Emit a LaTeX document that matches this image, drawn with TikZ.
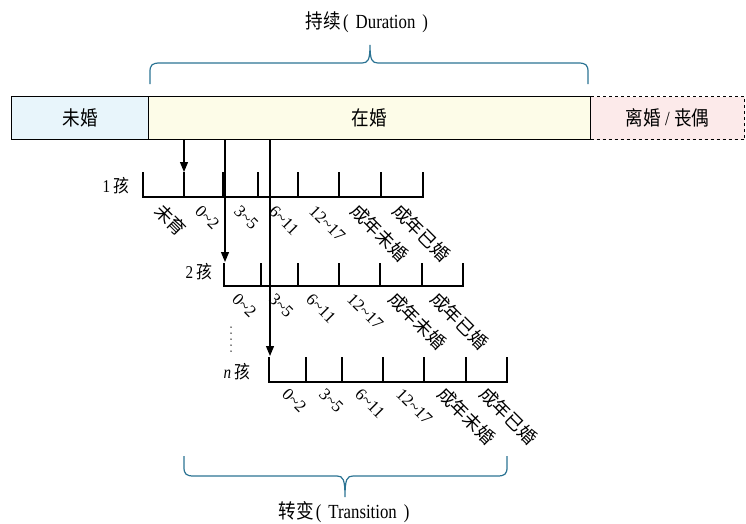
\documentclass[tikz,border=0pt]{standalone}
\usepackage{fontspec}
\setmainfont{Liberation Serif}[FakeStretch=0.84]
\newfontfamily\lat{Liberation Serif}
\newfontfamily\cjk{Noto Sans CJK SC}[FakeStretch=0.88]
\newfontfamily\cjkb{Noto Sans CJK SC}
\usetikzlibrary{arrows.meta}
\definecolor{braceC}{HTML}{2B7393}
\definecolor{blueF}{HTML}{E8F5FB}
\definecolor{yelF}{HTML}{FDFCE8}
\definecolor{pinkF}{HTML}{FCEAEA}
\newcommand\tld{\textasciitilde}
\begin{document}
\begin{tikzpicture}[x=1pt,y=-1pt,
  barbox/.style={draw, line width=1pt, minimum height=43pt, inner sep=0pt, anchor=north west, font=\fontsize{20}{20}\selectfont},
  axis/.style={line width=1.3pt},
  lab/.style={rotate=-45, anchor=base west, inner sep=0pt, font=\lat\fontsize{17}{17}\selectfont},
  kid/.style={anchor=east, inner sep=0pt, font=\fontsize{18}{18}\selectfont},
  arr/.style={line width=1.2pt, -{Triangle[length=10pt,width=8pt]}},
  bracestyle/.style={draw=braceC, line width=1.2pt},
  title/.style={inner sep=0pt, font=\fontsize{20}{20}\selectfont}]
\useasboundingbox (0,0) rectangle (746,523);

% top bar
\node[barbox, fill=blueF, minimum width=137pt] (unm) at (11,96) {\cjk 未婚};
\node[barbox, fill=yelF, minimum width=442pt] (mar) at (148,96) {\cjk 在婚};
\node[barbox, fill=pinkF, dashed, minimum width=154pt] (div) at (590,96) {{\cjk 离婚} / {\cjk 丧偶}};

% titles
\node[title] (dur) at (367,22) {{\cjk 持续}\hspace{2pt}(\hspace{7pt}Duration\hspace{7pt})};
\node[title] (tra) at (344,512) {{\cjk 转变}\hspace{2pt}(\hspace{7pt}Transition\hspace{7pt})};

% braces
\draw[bracestyle] (150,84) -- (150,72) .. controls (150,65) and (152,63) .. (160,63) -- (362,63)
  .. controls (368,63) and (370,60) .. (370,45)
  .. controls (370,60) and (372,63) .. (378,63) -- (578,63)
  .. controls (586,63) and (588,65) .. (588,72) -- (588,84);
\draw[bracestyle] (184,456) -- (184,467) .. controls (184,474) and (186,476) .. (194,476) -- (337,476)
  .. controls (343,476) and (345,479) .. (345,497)
  .. controls (345,479) and (347,476) .. (353,476) -- (497,476)
  .. controls (505,476) and (507,474) .. (507,467) -- (507,456);

% timeline 1
\foreach \x [count=\i from 0] in {143,184,223,258,298,339,381,423} {
  \coordinate (ta\i) at (\x,172);
  \coordinate (ba\i) at (\x,197);
}
\draw[axis] (ta0) -- (ba0) -- (ba7) -- (ta7);
\foreach \i in {1,...,6} { \draw[axis] (ba\i) -- (ta\i); }
\node[kid] (k1) at (130,186) {1 {\cjk 孩}};
\foreach \x/\t in {143/{\cjkb\fontsize{18}{18}\selectfont 未育},184/0\tld 2,223/3\tld 5,258/6\tld 11,298/12\tld 17,339/{\cjkb\fontsize{18}{18}\selectfont 成年未婚},381/{\cjkb\fontsize{18}{18}\selectfont 成年已婚}} {
  \node[lab] at (\x+10,212) {\t};
}

% timeline 2
\foreach \x [count=\i from 0] in {224,261,298,339,380,422,463} {
  \coordinate (tb\i) at (\x,263);
  \coordinate (bb\i) at (\x,286);
}
\draw[axis] (tb0) -- (bb0) -- (bb6) -- (tb6);
\foreach \i in {1,...,5} { \draw[axis] (bb\i) -- (tb\i); }
\node[kid] (k2) at (213,272) {2 {\cjk 孩}};
\foreach \x/\t in {224/0\tld 2,261/3\tld 5,298/6\tld 11,339/12\tld 17,380/{\cjkb\fontsize{18}{18}\selectfont 成年未婚},422/{\cjkb\fontsize{18}{18}\selectfont 成年已婚}} {
  \node[lab] at (\x+7,300) {\t};
}

% timeline n
\foreach \x [count=\i from 0] in {269,306,342,383,424,466,507} {
  \coordinate (tc\i) at (\x,357);
  \coordinate (bc\i) at (\x,382);
}
\draw[axis] (tc0) -- (bc0) -- (bc6) -- (tc6);
\foreach \i in {1,...,5} { \draw[axis] (bc\i) -- (tc\i); }
\node[kid] (kn) at (251,372) {\textit{n} {\cjk 孩}};
\foreach \x/\t in {269/0\tld 2,306/3\tld 5,342/6\tld 11,383/12\tld 17,424/{\cjkb\fontsize{18}{18}\selectfont 成年未婚},466/{\cjkb\fontsize{18}{18}\selectfont 成年已婚}} {
  \node[lab] at (\x+12,395) {\t};
}

% dots
\foreach \y in {327,333,339,345,351} { \fill (231,\y) circle (0.75pt); }

% arrows
\coordinate (s1) at (184,139);
\coordinate (s2) at (225,139);
\coordinate (s3) at (270,139);
\coordinate (e2) at (225,262);
\coordinate (e3) at (270,356);
\draw[arr] (s1) -- (ta1);
\draw[arr] (s2) -- (e2);
\draw[arr] (s3) -- (e3);
\end{tikzpicture}
\end{document}
